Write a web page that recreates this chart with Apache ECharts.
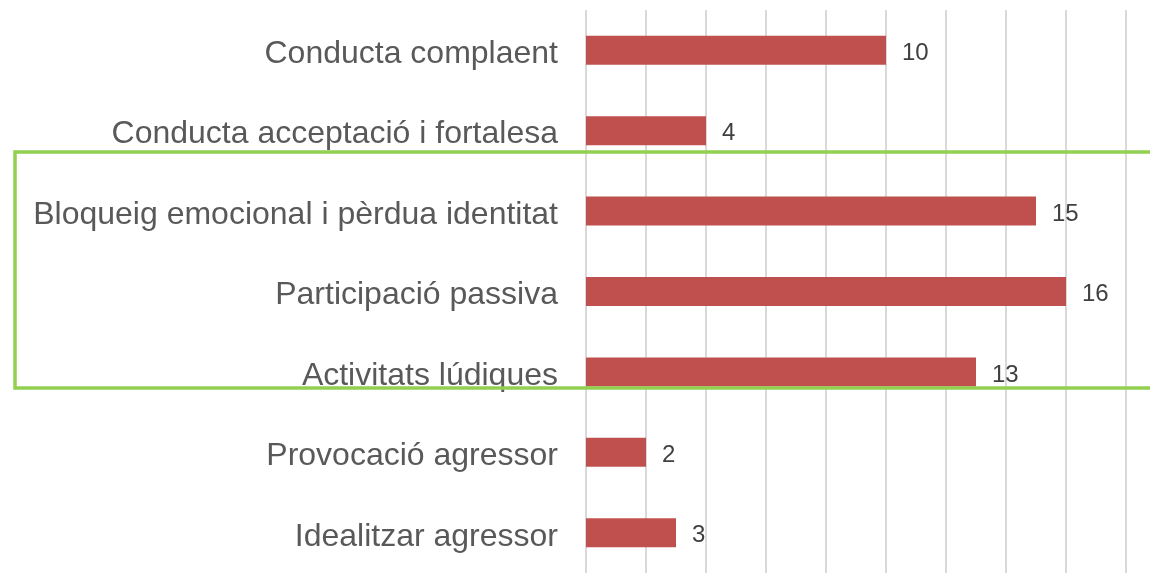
<!DOCTYPE html>
<html>
<head>
    <meta charset="UTF-8">
    <title>Conductes</title>
    <script src="https://cdn.jsdelivr.net/npm/echarts@6.0.0/dist/echarts.min.js"></script>
    <style>
        html, body { margin: 0; padding: 0; background: #fff; }
        #chartContainer { width: 1150px; height: 573px; }
    </style>
</head>
<body>
    <div id="chartContainer"></div>
    <script>
        // categories from top to bottom
        const categories = [
            'Conducta complaent',
            'Conducta acceptació i fortalesa',
            'Bloqueig emocional i pèrdua identitat',
            'Participació passiva',
            'Activitats lúdiques',
            'Provocació agressor',
            'Idealitzar agressor'
        ];
        const values = [10, 4, 15, 16, 13, 2, 3];

        const myChart = echarts.init(document.getElementById('chartContainer'));

        const option = {
            animation: false,
            grid: {
                left: 586,
                right: 24,
                top: 10,
                height: 571
            },
            xAxis: {
                type: 'value',
                min: 0,
                max: 18,
                interval: 2,
                axisLabel: { show: false },
                axisLine: { show: false },
                axisTick: { show: false },
                splitLine: { lineStyle: { color: '#d9d9d9', width: 2 } }
            },
            yAxis: {
                type: 'category',
                inverse: true,
                data: categories,
                axisLine: { show: false },
                axisTick: { show: false },
                axisLabel: {
                    margin: 28,
                    formatter: v => '{a|' + v + '}',
                    rich: {
                        a: {
                            fontSize: 32,
                            padding: [8, 0, 0, 0],
                            fontFamily: 'Liberation Sans, Arial, sans-serif',
                            color: '#595959'
                        }
                    }
                }
            },
            series: [{
                type: 'bar',
                data: values,
                barWidth: 29,
                itemStyle: { color: '#c0504d' },
                label: {
                    show: true,
                    position: 'right',
                    distance: 16,
                    offset: [0, 3],
                    fontSize: 24,
                    fontFamily: 'Liberation Sans, Arial, sans-serif',
                    color: '#404040'
                }
            }],
            // green highlight box drawn over the chart
            graphic: [{
                type: 'rect',
                z: 100,
                shape: { x: 15, y: 152, width: 1200, height: 236 },
                style: { fill: 'none', stroke: '#92d050', lineWidth: 3.5 }
            }]
        };

        myChart.setOption(option);
    </script>
</body>
</html>
